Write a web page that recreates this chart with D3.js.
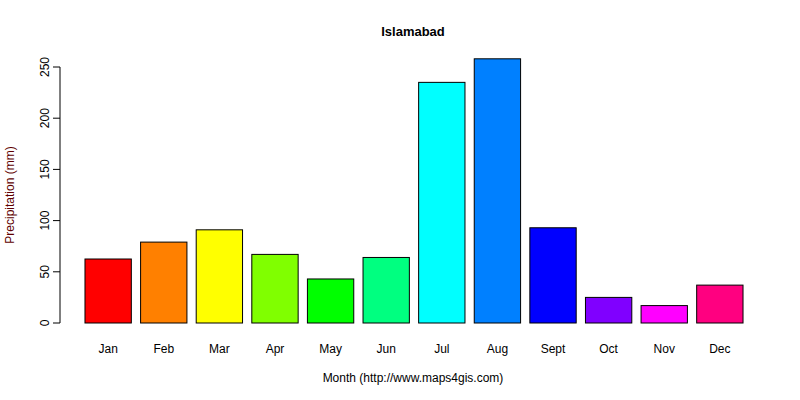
<!DOCTYPE html>
<html><head><meta charset="utf-8">
<script src="https://cdn.jsdelivr.net/npm/d3@7"></script>
<style>body{margin:0;background:#fff}text{font-family:"Liberation Sans",Arial,sans-serif}</style>
</head><body><svg id="c" width="800" height="400"></svg>
<script>
const months = ["Jan","Feb","Mar","Apr","May","Jun","Jul","Aug","Sept","Oct","Nov","Dec"];
const precip = [62.5,79,91,67,43,64,235,258,93,25,17,37];
const colors = ["#FF0000","#FF8000","#FFFF00","#80FF00","#00FF00","#00FF80","#00FFFF","#0080FF","#0000FF","#8000FF","#FF00FF","#FF0080"];
const yTicks = [0,50,100,150,200,250];

const svg = d3.select("#c");
const x = d3.scaleBand().domain(months).range([80.35,747.65]).paddingInner(0.1667).paddingOuter(0.0833);
const y = d3.scaleLinear().domain([0,250]).range([323,67]);

svg.selectAll("rect.bar").data(months).enter().append("rect")
  .attr("x",d=>x(d)).attr("width",x.bandwidth())
  .attr("y",(d,i)=>y(precip[i])).attr("height",(d,i)=>y(0)-y(precip[i]))
  .attr("fill",(d,i)=>colors[i]).attr("stroke","#000").attr("stroke-width",1);

const ya = svg.append("g").attr("transform","translate(60,0)")
  .call(d3.axisLeft(y).tickValues(yTicks).tickSize(7).tickPadding(4));
ya.select(".domain").attr("d","M-7,"+y(0)+"H0V"+y(250)+"H-7").attr("stroke","#000");
ya.selectAll(".domain").attr("d","M0,"+y(0)+"V"+y(250));
ya.selectAll("text").attr("font-size",12).attr("fill","#000")
  .attr("transform",function(d){return "rotate(-90,"+(-15)+","+y(d)+")";})
  .attr("x",-15).attr("dy","0.32em").attr("text-anchor","middle");
ya.selectAll("text").each(function(d){d3.select(this).attr("x",-15).attr("y",y(d)).attr("dy","0.35em");});
ya.selectAll(".tick").attr("transform",null);
ya.selectAll(".tick line").attr("y1",d=>y(d)).attr("y2",d=>y(d)).attr("x2",-7);

svg.selectAll("text.xl").data(months).enter().append("text")
  .attr("x",d=>x(d)+x.bandwidth()/2).attr("y",353).attr("text-anchor","middle")
  .attr("font-size",12).text(d=>d);

svg.append("text").attr("x",413).attr("y",36).attr("text-anchor","middle")
  .attr("font-size",13).attr("font-weight","bold").text("Islamabad");
svg.append("text").attr("x",413).attr("y",382).attr("text-anchor","middle")
  .attr("font-size",12).text("Month (http://www.maps4gis.com)");
svg.append("text").attr("transform","translate(14,195) rotate(-90)").attr("text-anchor","middle")
  .attr("font-size",12).attr("fill","#600000").text("Precipitation (mm)");
</script></body></html>
